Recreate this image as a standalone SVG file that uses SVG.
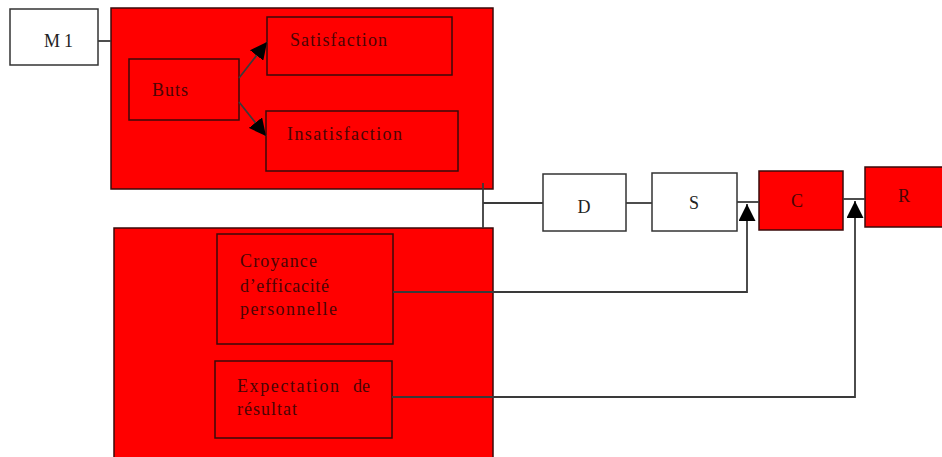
<svg xmlns="http://www.w3.org/2000/svg" width="942" height="457" viewBox="0 0 942 457">
<style>
.red{fill:#ff0000;stroke:#3a0a0a;stroke-width:1.5}
.white{fill:#ffffff;stroke:#333;stroke-width:1.5}
.t{font-family:"Liberation Serif",serif;font-size:18px;fill:#4a0505}
.tb{font-family:"Liberation Serif",serif;font-size:18px;fill:#222}
.c{fill:none;stroke:#3a3a3a;stroke-width:1.8}
</style>
<defs>
<marker id="ah2" viewBox="0 0 10 10" refX="10" refY="5" markerWidth="17" markerHeight="17" markerUnits="userSpaceOnUse" orient="auto">
<path d="M0,0 L10,5 L0,10 Z" fill="#000"/>
</marker>
</defs>
<g id="top-group"><rect class="red" x="111" y="8" width="382" height="181"/></g>
<g id="bottom-group"><rect class="red" x="114" y="228" width="379" height="240"/></g>
<g id="m1"><rect class="white" x="10" y="9" width="88" height="56"/><text class="tb" x="44" y="47" textLength="29">M1</text></g>
<g id="buts"><rect class="red" x="129" y="59" width="110" height="61"/><text class="t" x="152" y="96" textLength="36">Buts</text></g>
<g id="satisfaction"><rect class="red" x="267" y="17" width="185" height="58"/><text class="t" x="290" y="46" textLength="97">Satisfaction</text></g>
<g id="insatisfaction"><rect class="red" x="266" y="111" width="192" height="60"/><text class="t" x="287" y="140" textLength="115">Insatisfaction</text></g>
<g id="croyance"><rect class="red" x="217" y="234" width="176" height="110"/>
<text class="t" x="240" y="267" textLength="77">Croyance</text>
<text class="t" x="240" y="292" textLength="89">d’efficacité</text>
<text class="t" x="240" y="315" textLength="97">personnelle</text></g>
<g id="expectation"><rect class="red" x="215" y="361" width="177" height="77"/>
<text class="t" y="392"><tspan x="237" textLength="102">Expectation</tspan> <tspan x="353" textLength="17">de</tspan></text>
<text class="t" x="237" y="415" textLength="60">résultat</text></g>
<g id="d"><rect class="white" x="543" y="174" width="83" height="57"/><text class="tb" x="584" y="213" text-anchor="middle">D</text></g>
<g id="s"><rect class="white" x="652" y="173" width="85" height="58"/><text class="tb" x="694" y="209" text-anchor="middle">S</text></g>
<g id="c"><rect class="red" x="759" y="171" width="84" height="59"/><text class="t" x="797" y="207" text-anchor="middle">C</text></g>
<g id="r"><rect class="red" x="865" y="167" width="82" height="60"/><text class="t" x="904" y="202" text-anchor="middle">R</text></g>
<g id="connectors">
<line class="c" x1="98" y1="41" x2="111" y2="41"/>
<line class="c" x1="239" y1="78" x2="267" y2="42" marker-end="url(#ah2)"/>
<line class="c" x1="239" y1="102" x2="266" y2="136" marker-end="url(#ah2)"/>
<line class="c" x1="483" y1="183" x2="483" y2="228"/>
<line class="c" x1="483" y1="203" x2="543" y2="203"/>
<line class="c" x1="626" y1="203" x2="652" y2="203"/>
<line class="c" x1="737" y1="202" x2="759" y2="202"/>
<line class="c" x1="843" y1="199" x2="865" y2="199"/>
<polyline class="c" points="393,292 747,292 747,204" marker-end="url(#ah2)"/>
<polyline class="c" points="392,397 855,397 855,201" marker-end="url(#ah2)"/>
</g>
</svg>
